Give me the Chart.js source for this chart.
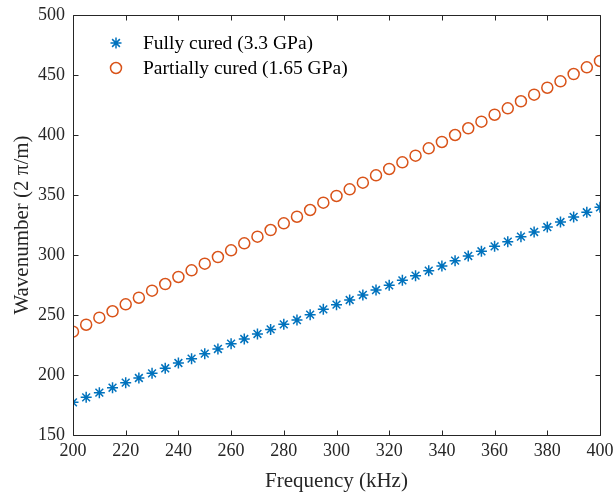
<!DOCTYPE html>
<html>
<head>
<meta charset="utf-8">
<script src="https://cdn.jsdelivr.net/npm/chart.js@4.4.1/dist/chart.umd.min.js"></script>
<style>
  html, body { margin: 0; padding: 0; background: #fff; }
  #wrap { width: 616px; height: 494px; }
</style>
</head>
<body>
<div id="wrap"><canvas id="chart-area" width="616" height="494"></canvas></div>
<script>
var frequency = [200, 205, 210, 215, 220, 225, 230, 235, 240, 245, 250, 255, 260, 265,
  270, 275, 280, 285, 290, 295, 300, 305, 310, 315, 320, 325, 330, 335, 340, 345,
  350, 355, 360, 365, 370, 375, 380, 385, 390, 395, 400];

var fullyCured = [177.2, 181.4, 185.3, 189.4, 193.6, 197.5, 201.4, 205.6, 210.0, 213.6,
  217.8, 221.7, 226.1, 230.0, 234.2, 238.0, 242.2, 245.8, 250.3, 254.7, 258.6, 262.5,
  266.7, 270.8, 274.7, 278.9, 282.8, 286.9, 290.8, 295.3, 299.2, 303.1, 307.2, 311.1,
  315.3, 319.2, 323.3, 327.5, 331.7, 335.6, 339.7];

var partiallyCured = [236.1, 241.9, 247.8, 253.1, 258.9, 264.4, 270.3, 275.8, 281.7, 287.2,
  292.8, 298.3, 303.9, 309.7, 315.3, 320.8, 326.4, 331.9, 337.5, 343.6, 349.2, 354.7,
  360.3, 366.4, 371.7, 377.2, 382.8, 388.9, 394.2, 400.0, 405.6, 411.1, 416.9, 422.2,
  428.1, 433.6, 439.4, 444.7, 450.8, 456.4, 461.7];

var seriesNames = ['Fully cured (3.3 GPa)', 'Partially cured (1.65 GPa)'];
var xTicks = [200, 220, 240, 260, 280, 300, 320, 340, 360, 380, 400];
var yTicks = [150, 200, 250, 300, 350, 400, 450, 500];

var blue = '#0072BD';
var orange = '#D95319';
var serif = '"Liberation Serif", "Times New Roman", serif';

function toPoints(ys) {
  return frequency.map(function (f, i) { return { x: f, y: ys[i] }; });
}

// axes box with inward tick marks on all four sides
var axesBox = {
  id: 'axesBox',
  afterDraw: function (chart) {
    var ctx = chart.ctx, a = chart.chartArea;
    var xs = chart.scales.x, ys = chart.scales.y, len = 5;
    var l = Math.round(a.left) + 0.5, r = Math.round(a.right) + 0.5;
    var t = Math.round(a.top) + 0.5, b = Math.round(a.bottom) + 0.5;
    ctx.save();
    ctx.strokeStyle = '#262626';
    ctx.lineWidth = 1;
    ctx.beginPath();
    xTicks.forEach(function (v) {
      var px = Math.round(xs.getPixelForValue(v)) + 0.5;
      ctx.moveTo(px, b); ctx.lineTo(px, b - len);
      ctx.moveTo(px, t); ctx.lineTo(px, t + len);
    });
    yTicks.forEach(function (v) {
      var py = Math.round(ys.getPixelForValue(v)) + 0.5;
      ctx.moveTo(l, py); ctx.lineTo(l + len, py);
      ctx.moveTo(r, py); ctx.lineTo(r - len, py);
    });
    ctx.moveTo(l, t); ctx.lineTo(r, t); ctx.lineTo(r, b); ctx.lineTo(l, b); ctx.closePath();
    ctx.stroke();
    ctx.restore();
  }
};

// legend sitting inside the top-left corner, no frame
var innerLegend = {
  id: 'innerLegend',
  afterDraw: function (chart) {
    var ctx = chart.ctx;
    var rows = [43, 68], cx = 116;
    ctx.save();
    chart.data.datasets.forEach(function (ds, i) {
      var cy = rows[i], rad = ds.pointRadius;
      ctx.strokeStyle = ds.borderColor;
      ctx.lineWidth = ds.borderWidth;
      ctx.beginPath();
      if (ds.pointStyle === 'circle') {
        ctx.arc(cx, cy, rad, 0, Math.PI * 2);
      } else {
        var d = rad * 0.7071;
        ctx.moveTo(cx - rad, cy); ctx.lineTo(cx + rad, cy);
        ctx.moveTo(cx, cy - rad); ctx.lineTo(cx, cy + rad);
        ctx.moveTo(cx - d, cy - d); ctx.lineTo(cx + d, cy + d);
        ctx.moveTo(cx - d, cy + d); ctx.lineTo(cx + d, cy - d);
      }
      ctx.stroke();
      ctx.fillStyle = '#000';
      ctx.font = '19.5px ' + serif;
      ctx.textBaseline = 'middle';
      ctx.textAlign = 'left';
      ctx.fillText(ds.label, 143, cy + 1);
    });
    ctx.restore();
  }
};

var config = {
  type: 'scatter',
  data: {
    datasets: [{
      label: seriesNames[0],
      data: toPoints(fullyCured),
      pointStyle: 'star',
      pointRadius: 5.5,
      borderWidth: 1.5,
      borderColor: blue,
      backgroundColor: blue
    }, {
      label: seriesNames[1],
      data: toPoints(partiallyCured),
      pointStyle: 'circle',
      pointRadius: 5.5,
      borderWidth: 1.5,
      borderColor: orange,
      backgroundColor: 'rgba(0,0,0,0)'
    }]
  },
  options: {
    responsive: false,
    animation: false,
    layout: { padding: { top: 15, right: 16, left: 0, bottom: 0 } },
    plugins: {
      legend: { display: false },
      tooltip: { enabled: false }
    },
    scales: {
      x: {
        type: 'linear',
        min: 200,
        max: 400,
        afterBuildTicks: function (s) { s.ticks = xTicks.map(function (v) { return { value: v }; }); },
        afterFit: function (s) {
          s.height = 59;
          s.paddingLeft = 0;
          s.paddingRight = 0;
        },
        grid: { display: false, drawTicks: false },
        border: { display: false },
        ticks: { color: '#262626', font: { family: serif, size: 18 }, padding: 5, maxRotation: 0 },
        title: {
          display: true,
          text: 'Frequency (kHz)',
          color: '#262626',
          font: { family: serif, size: 21 },
          padding: { top: 0, bottom: 0 }
        }
      },
      y: {
        min: 150,
        max: 500,
        afterBuildTicks: function (s) { s.ticks = yTicks.map(function (v) { return { value: v }; }); },
        afterFit: function (s) {
          s.width = 73;
          s.paddingTop = 0;
          s.paddingBottom = 0;
        },
        grid: { display: false, drawTicks: false },
        border: { display: false },
        ticks: { color: '#262626', font: { family: serif, size: 18 }, padding: 8 },
        title: {
          display: true,
          text: 'Wavenumber (2 \u03c0/m)',
          color: '#262626',
          font: { family: serif, size: 21 },
          padding: { top: 10, bottom: 0 }
        }
      }
    }
  },
  plugins: [axesBox, innerLegend]
};

window.onload = function () {
  var ctx = document.getElementById('chart-area').getContext('2d');
  window.myScatter = new Chart(ctx, config);
};
</script>
</body>
</html>
